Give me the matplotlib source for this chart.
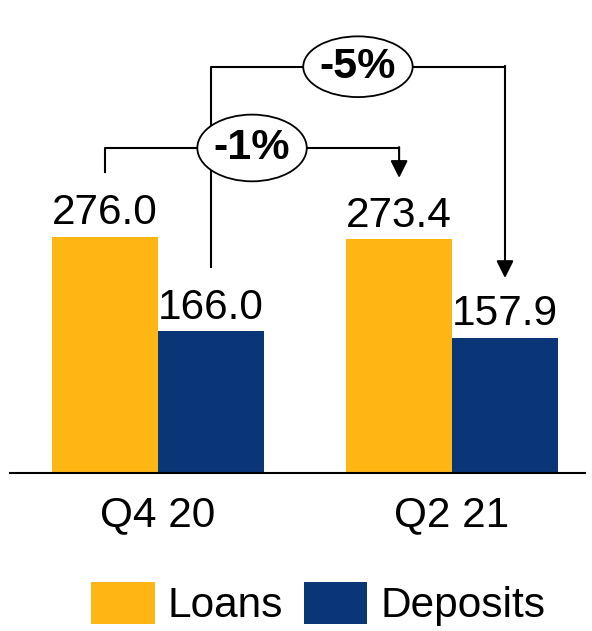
import matplotlib.pyplot as plt
from matplotlib.patches import Ellipse
import numpy as np

plt.rcParams['font.family'] = ['Liberation Sans', 'DejaVu Sans']

# data
periods = ['Q4 20', 'Q2 21']
loans = [276.0, 273.4]
deposits = [166.0, 157.9]
changes = ['-1%', '-5%']   # loans change, deposits change

yellow = '#FDB614'
navy = '#0A3577'

fig = plt.figure(figsize=(5.92, 6.31), dpi=100)
ax = fig.add_axes([10 / 592, 158 / 631, 575 / 592, 473 / 631])

x = np.arange(len(periods))
w = 0.36
bl = ax.bar(x - w / 2, loans, w, color=yellow, label='Loans')
bd = ax.bar(x + w / 2, deposits, w, color=navy, label='Deposits')

ax.set_xlim(-0.503, 1.452)
ax.set_ylim(0, 553)

for bars in (bl, bd):
    for b in bars:
        ax.annotate(f'{b.get_height():.1f}', (b.get_x() + b.get_width() / 2, b.get_height()),
                    xytext=(0, 9), textcoords='offset points', ha='center', va='baseline',
                    fontsize=30.5)

for s in ['top', 'right', 'left']:
    ax.spines[s].set_visible(False)
ax.spines['bottom'].set_linewidth(1.5)
ax.set_yticks([])
ax.set_xticks(x)
ax.set_xticklabels(periods, fontsize=30.5)
ax.tick_params(axis='x', length=0, pad=16)

lw = 1.5


def bracket(x0, y0, x1, level, tip, label, ex, eh):
    ax.plot([x0, x0, x1], [y0, level, level], color='black', lw=lw, clip_on=False)
    ax.annotate('', xy=(x1, tip), xytext=(x1, level + 1),
                arrowprops=dict(arrowstyle='-|>', color='black', lw=lw, mutation_scale=26,
                                shrinkA=0, shrinkB=0), annotation_clip=False)
    ax.add_patch(Ellipse((ex, level), 0.372, eh, facecolor='white', edgecolor='black',
                         lw=1.3, zorder=3, clip_on=False))
    ax.text(ex, level, label, ha='center', va='center', fontsize=31, fontweight='bold', zorder=4)


# loans bracket
bracket(x[0] - w / 2, 352, x[1] - w / 2, 380, 345, changes[0], 0.32, 78)
# deposits bracket
bracket(x[0] + w / 2, 241, x[1] + w / 2, 475, 228, changes[1], 0.68, 71)

fig.legend(handles=[bl, bd], loc='center', bbox_to_anchor=(318 / 592, 27 / 631), ncol=2,
           frameon=False, fontsize=30.5, handlelength=1.5, handleheight=1.15,
           handletextpad=0.3, columnspacing=0.5)

fig.savefig('out.png', dpi=100)
